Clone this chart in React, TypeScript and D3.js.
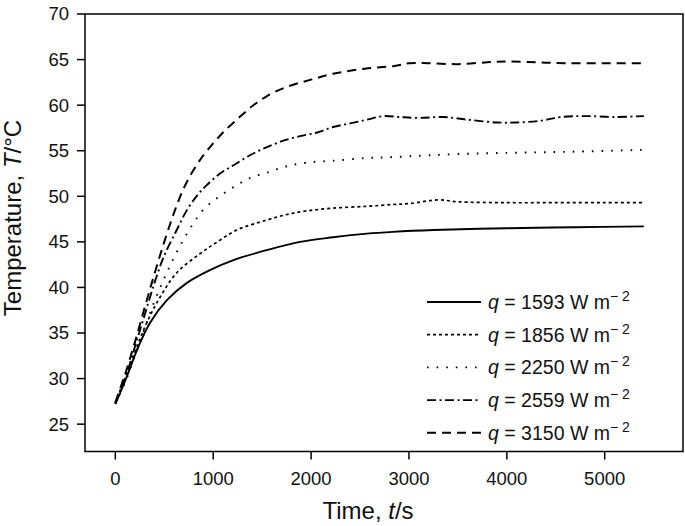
import React from "react";
import * as d3 from "d3";

const xTicks = [0, 1000, 2000, 3000, 4000, 5000];
const yTicks = [25, 30, 35, 40, 45, 50, 55, 60, 65, 70];

const heatFluxLabels = ["1593", "1856", "2250", "2559", "3150"];

const t1593 = [0, 117, 220, 353, 527, 731, 966, 1207, 1549, 1887, 2224, 2570, 2837, 3250, 4000, 4700, 5400];
const v1593 = [27.2, 30.2, 33.1, 36.1, 38.6, 40.5, 41.9, 43.0, 44.1, 45.0, 45.5, 45.9, 46.1, 46.3, 46.5, 46.6, 46.7];

const t1856 = [0, 179, 320, 455, 627, 864, 1042, 1242, 1549, 1753, 1958, 2224, 2570, 2837, 3000, 3300, 3500, 4000, 4500, 5000, 5400];
const v1856 = [27.3, 32.3, 36.1, 38.9, 41.6, 43.7, 45.0, 46.3, 47.4, 48.0, 48.4, 48.7, 48.9, 49.1, 49.2, 49.6, 49.4, 49.3, 49.3, 49.3, 49.3];

const t2250 = [0, 100, 200, 300, 400, 500, 600, 700, 795, 897, 1039, 1207, 1375, 1549, 1753, 1958, 2224, 2570, 2837, 3200, 3700, 4200, 4700, 5400];
const v2250 = [27.3, 29.6, 32.5, 35.5, 38.5, 41.0, 43.3, 45.3, 47.0, 48.5, 49.8, 51.0, 52.0, 52.6, 53.3, 53.7, 53.9, 54.2, 54.3, 54.5, 54.7, 54.8, 54.9, 55.1];

const t2559 = [0, 100, 200, 300, 400, 500, 627, 727, 829, 931, 1069, 1207, 1375, 1549, 1718, 1887, 2064, 2224, 2398, 2570, 2739, 2900, 3100, 3350, 3600, 3900, 4100, 4350, 4550, 4800, 5100, 5400];
const v2559 = [27.3, 30.0, 33.5, 37.0, 40.5, 43.5, 46.3, 48.4, 50.0, 51.2, 52.5, 53.4, 54.5, 55.4, 56.1, 56.6, 57.0, 57.6, 58.0, 58.4, 58.8, 58.7, 58.6, 58.7, 58.4, 58.1, 58.1, 58.3, 58.7, 58.8, 58.7, 58.8];

const t3150 = [0, 100, 200, 300, 400, 500, 600, 700, 800, 900, 1000, 1100, 1250, 1400, 1550, 1750, 2000, 2250, 2550, 2850, 3000, 3200, 3500, 3800, 4000, 4300, 4600, 5000, 5400];
const v3150 = [27.4, 30.5, 34.0, 37.8, 41.5, 45.0, 48.2, 50.9, 52.9, 54.5, 55.8, 57.0, 58.5, 59.9, 61.0, 62.0, 62.8, 63.5, 64.0, 64.3, 64.6, 64.6, 64.5, 64.7, 64.8, 64.7, 64.6, 64.6, 64.6];

const seriesTimes = [t1593, t1856, t2250, t2559, t3150];
const seriesValues = [v1593, v1856, v2250, v2559, v3150];

const dashes = ["none", "3,3", "1.6,8", "9,3.5,2,3.5", "9,6"];
const widths = [1.9, 1.7, 1.9, 1.9, 2];

export default function App() {
  const x = d3.scaleLinear().domain([-310, 5800]).range([85, 683]);
  const y = d3.scaleLinear().domain([22, 70]).range([451.5, 14]);
  const line = d3
    .line<[number, number]>()
    .x((d) => x(d[0]))
    .y((d) => y(d[1]))
    .curve(d3.curveCatmullRom.alpha(0.5));

  const font = "'Liberation Sans', Arial, Helvetica, sans-serif";
  const legendX = 427;
  const legendY0 = 302;
  const legendDy = 32.7;

  return (
    <svg
      width={685}
      height={526}
      style={{ position: "absolute", left: 0, top: 0, background: "#fff" }}
      fontFamily={font}
    >
      <rect x={0} y={0} width={685} height={526} fill="#fff" />
      {seriesTimes.map((ts, i) => (
        <path
          key={i}
          d={line(ts.map((t, j) => [t, seriesValues[i][j]] as [number, number])) || ""}
          fill="none"
          stroke="#000"
          strokeWidth={widths[i]}
          strokeDasharray={dashes[i]}
        />
      ))}
      <rect
        x={x(-310)}
        y={y(70)}
        width={x(5800) - x(-310)}
        height={y(22) - y(70)}
        fill="none"
        stroke="#000"
        strokeWidth={1.5}
      />
      {yTicks.map((v) => (
        <g key={v}>
          <line x1={77} x2={x(-310)} y1={y(v)} y2={y(v)} stroke="#000" strokeWidth={1.5} />
          <text x={69} y={y(v)} dy="0.35em" textAnchor="end" fontSize={18.5} fill="#111">
            {v}
          </text>
        </g>
      ))}
      {xTicks.map((v) => (
        <g key={v}>
          <line x1={x(v)} x2={x(v)} y1={y(22)} y2={y(22) + 8} stroke="#000" strokeWidth={1.5} />
          <text x={x(v)} y={485} textAnchor="middle" fontSize={18.5} fill="#111">
            {v}
          </text>
        </g>
      ))}
      <text x={368} y={519} textAnchor="middle" fontSize={24} fill="#111">
        Time, <tspan fontStyle="italic">t</tspan>/s
      </text>
      <text
        transform="translate(21,218) rotate(-90)"
        textAnchor="middle"
        fontSize={24}
        fill="#111"
      >
        Temperature, <tspan fontStyle="italic">T</tspan>/°C
      </text>
      {heatFluxLabels.map((lab, i) => {
        const cy = legendY0 + i * legendDy;
        return (
          <g key={lab}>
            <line
              x1={legendX}
              x2={legendX + 54}
              y1={cy}
              y2={cy}
              stroke="#000"
              strokeWidth={widths[i]}
              strokeDasharray={dashes[i]}
            />
            <text x={488} y={cy + 7} fontSize={19.5} fill="#111">
              <tspan fontStyle="italic">q</tspan> = {lab} W m
              <tspan fontSize={14} dy={-8}>− 2</tspan>
            </text>
          </g>
        );
      })}
    </svg>
  );
}
